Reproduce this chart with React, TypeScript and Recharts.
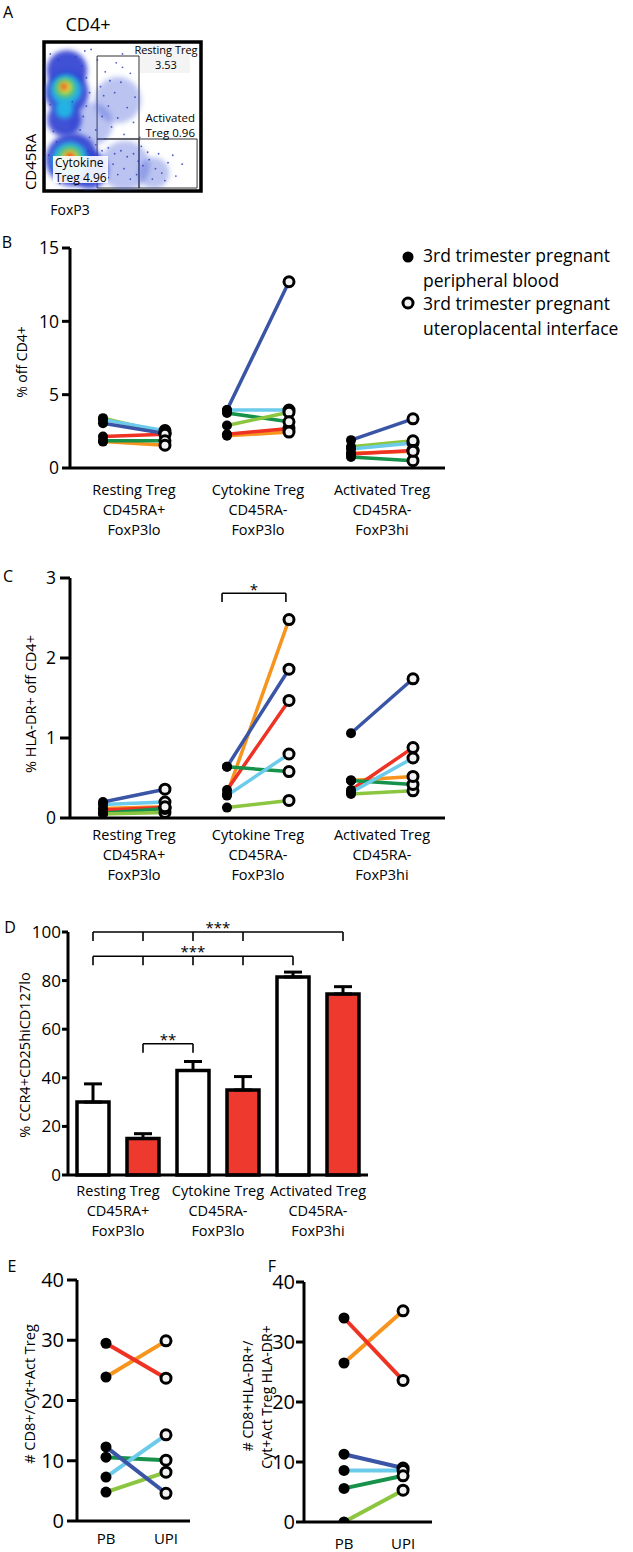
import React from "react";
import {
  ComposedChart,
  ScatterChart,
  BarChart,
  Line,
  Scatter,
  Bar,
  ErrorBar,
  XAxis,
  YAxis,
  ZAxis,
  ReferenceArea,
  ReferenceLine,
} from "recharts";

const FONT = "'Open Sans', sans-serif";

// same six donors in every panel
const donorColors = ["#3a55a5", "#6ccbea", "#8cc640", "#ee3224", "#16924a", "#f7941e"];
const drawOrder = [5, 3, 4, 2, 1, 0];

const tregCats = [
  ["Resting Treg", "CD45RA+", "FoxP3lo"],
  ["Cytokine Treg", "CD45RA-", "FoxP3lo"],
  ["Activated Treg", "CD45RA-", "FoxP3hi"],
];

// B: % off CD4+ (rows = donors, cols = resting, cytokine, activated)
const offCd4Blood = [
  [3.05, 3.95, 1.9],
  [3.3, 3.95, 1.3],
  [3.4, 2.9, 1.45],
  [2.15, 2.3, 0.95],
  [1.85, 3.75, 0.75],
  [1.8, 2.2, 1.0],
];
const offCd4Upi = [
  [2.35, 12.7, 3.35],
  [2.55, 3.95, 1.7],
  [2.4, 3.8, 1.85],
  [2.3, 2.7, 1.2],
  [1.85, 3.15, 0.5],
  [1.55, 2.45, 1.15],
];

// C: % HLA-DR+ off CD4+
const hlaBlood = [
  [0.2, 0.64, 1.06],
  [0.17, 0.28, 0.32],
  [0.05, 0.13, 0.3],
  [0.1, 0.35, 0.35],
  [0.06, 0.64, 0.47],
  [0.12, 0.3, 0.47],
];
const hlaUpi = [
  [0.36, 1.86, 1.74],
  [0.2, 0.8, 0.75],
  [0.07, 0.22, 0.34],
  [0.13, 1.47, 0.88],
  [0.12, 0.58, 0.42],
  [0.14, 2.48, 0.52],
];

// D: % CCR4+CD25hiCD127lo, mean and SEM
const ccr4Blood = [30, 43, 81.5];
const ccr4BloodSem = [7.5, 3.7, 2];
const ccr4Upi = [15, 35, 74.5];
const ccr4UpiSem = [2, 5.5, 3];

// E, F: ratios per donor
const cd8RatioBlood = [12.3, 7.3, 4.8, 29.5, 10.6, 23.9];
const cd8RatioUpi = [4.6, 14.3, 8.1, 23.7, 10.1, 29.9];
const hlaRatioBlood = [11.3, 8.6, 0, 34, 5.6, 26.5];
const hlaRatioUpi = [9.0, 8.6, 5.3, 23.6, 7.7, 35.2];

// A: flow plot, FoxP3 (x) vs CD45RA (y), 0-100 arbitrary units
// [foxp3, cd45ra, spread, density level]
const flowClouds = [
  [51.6, 17, 16, 0],
  [70, 12, 10, 0],
  [47, 61, 15, 0],
  [30, 45, 14, 0],
  [14.6, 81, 13, 1],
  [14.6, 66, 14, 1],
  [13, 48, 11, 1],
  [14, 68, 10, 2],
  [13, 55, 6, 2],
  [13.5, 69, 6.5, 3],
  [13.5, 69.5, 4, 4],
  [12.7, 70, 2, 5],
  [18, 21, 17, 1],
  [29, 14, 12, 1],
  [16.5, 21, 11.5, 2],
  [16.5, 22, 7.7, 3],
  [16.5, 22, 5, 4],
  [16.5, 23, 2.5, 5],
];
const flowEvents = [
  [4, 92], [9, 88], [20, 90], [24, 84], [27, 76], [29, 66], [27, 57], [25, 50],
  [23, 41], [29, 36], [33, 31], [37, 27], [41, 29], [45, 25], [49, 27], [53, 23],
  [57, 25], [51, 15], [47, 11], [41, 9], [35, 13], [59, 11], [63, 17], [67, 21],
  [71, 15], [69, 8], [75, 12], [79, 19], [84, 10], [37, 50], [41, 57], [45, 66],
  [49, 73], [53, 56], [57, 46], [39, 80], [46, 86], [55, 79], [33, 41], [43, 43],
  [51, 38], [28, 27], [31, 18], [6, 40], [4, 58], [3, 24], [28, 6], [20, 4],
  [10, 5], [36, 70], [58, 63], [47, 49], [62, 30], [66, 26], [73, 25], [88, 18],
  [30, 95], [50, 92], [18, 60], [8, 33], [39, 35], [44, 18], [55, 8], [60, 20],
  [38, 64], [50, 83], [42, 74], [34, 88], [26, 94], [61, 36], [77, 7], [82, 24],
];
const flowGates = [
  { foxp3: [33.8, 60.5], cd45ra: [34.9, 90.6] },
  { foxp3: [33.8, 60.5], cd45ra: [2, 34.9] },
  { foxp3: [60.5, 97.5], cd45ra: [2, 34.9] },
];

const levelFill = ["#3d52d4", "#2b3fd0", "#22b7e6", "#62c46a", "#f4e33a", "#e8361c"];
const levelOpacity = [0.35, 0.9, 0.95, 0.95, 0.95, 1];

// D significance brackets, bar index 0..5 (white/red alternating)
const ccrBrackets = [
  { from: 0, to: 5, drops: [0, 1, 2, 3, 5], level: 100, mark: "***" },
  { from: 0, to: 4, drops: [0, 1, 2, 3, 4], level: 90, mark: "***" },
  { from: 1, to: 2, drops: [1, 2], level: 54, mark: "**" },
];

function groupedLines(blood: number[][], upi: number[][]) {
  return blood.map((row, d) =>
    row.flatMap((v, c) => [
      { x: 2 * c + 1, y: v },
      { x: 2 * c + 2, y: upi[d][c] },
      { x: 2 * c + 2.5, y: null },
    ])
  );
}

function groupedDots(vals: number[][], shift: number) {
  return vals.flatMap((row) => row.map((v, c) => ({ x: 2 * c + 1 + shift, y: v })));
}

function Txt({ x, y, size, align = "left", rotate = false, children, style }: any) {
  const tx = align === "center" ? "-50%" : align === "right" ? "-100%" : "0";
  return (
    <div
      style={{
        position: "absolute",
        left: x,
        top: y,
        fontSize: size,
        lineHeight: 1.2,
        whiteSpace: "nowrap",
        transform: `translate(${tx}, -50%)${rotate ? " rotate(-90deg)" : ""}`,
        ...style,
      }}
    >
      {children}
    </div>
  );
}

const catTick = (firstDy: number) => (p: any) => {
  const idx = p.payload && typeof p.payload.value === "number" && p.payload.value > 1
    ? Math.round((p.payload.value - 1.5) / 2)
    : p.index;
  const lines = tregCats[idx] || [];
  return (
    <text x={p.x} y={p.y} textAnchor="middle" fontSize={14.5} fontFamily={FONT} fill="#000">
      {lines.map((l, i) => (
        <tspan key={i} x={p.x} dy={i === 0 ? firstDy : 20}>
          {l}
        </tspan>
      ))}
    </text>
  );
};

function PairedChart(props: any) {
  const {
    left, top, width, height, margin, xDomain, xTicks, xHeight, xTick, xTickMargin,
    yDomain, yTicks, yWidth, yFont, yTickSize, yTickMargin,
    blood, upi, dotR, ringR, lineW, children,
  } = props;
  const lines = groupedLines(blood, upi);
  return (
    <div style={{ position: "absolute", left, top }}>
      <ComposedChart width={width} height={height} margin={margin}>
        <XAxis
          type="number"
          dataKey="x"
          domain={xDomain}
          ticks={xTicks}
          interval={0}
          allowDataOverflow
          height={xHeight}
          axisLine={{ stroke: "#000", strokeWidth: 3 }}
          tickLine={false}
          tickSize={0}
          tickMargin={xTickMargin || 0}
          tick={xTick}
          tickFormatter={(v: number) => (v === 1 ? "PB" : "UPI")}
        />
        <YAxis
          type="number"
          dataKey="y"
          domain={yDomain}
          ticks={yTicks}
          interval={0}
          allowDataOverflow
          width={yWidth}
          axisLine={{ stroke: "#000", strokeWidth: 3 }}
          tickLine={{ stroke: "#000", strokeWidth: 3 }}
          tickSize={yTickSize}
          tickMargin={yTickMargin}
          tick={{ fontSize: yFont, fill: "#000", fontFamily: FONT }}
        />
        {drawOrder.map((d) => (
          <Line
            key={d}
            data={lines[d]}
            dataKey="y"
            type="linear"
            stroke={donorColors[d]}
            strokeWidth={lineW}
            dot={false}
            activeDot={false}
            connectNulls={false}
            isAnimationActive={false}
          />
        ))}
        <Scatter
          data={groupedDots(blood, 0)}
          dataKey="y"
          isAnimationActive={false}
          shape={(p: any) => <circle cx={p.cx} cy={p.cy} r={dotR} fill="#000" />}
        />
        <Scatter
          data={groupedDots(upi, 1)}
          dataKey="y"
          isAnimationActive={false}
          shape={(p: any) => (
            <circle cx={p.cx} cy={p.cy} r={ringR} fill="#f2f2f2" stroke="#000" strokeWidth={3} />
          )}
        />
        {children}
      </ComposedChart>
    </div>
  );
}

function FlowPanel() {
  const clouds = flowClouds.map(([foxp3, cd45ra, spread, level]) => ({
    foxp3,
    cd45ra,
    area: spread * spread,
    level,
  }));
  const events = flowEvents.map(([foxp3, cd45ra]) => ({ foxp3, cd45ra }));
  return (
    <div style={{ position: "absolute", left: 0, top: 0 }}>
      <ScatterChart width={215} height={200} margin={{ top: 42, left: 44, right: 14, bottom: 9 }}>
        <XAxis type="number" dataKey="foxp3" domain={[0, 100]} hide allowDataOverflow />
        <YAxis type="number" dataKey="cd45ra" domain={[0, 100]} hide allowDataOverflow />
        <ZAxis type="number" dataKey="area" domain={[0, 400]} range={[0, 3019]} />
        <Scatter
          data={clouds}
          isAnimationActive={false}
          shape={(p: any) => (
            <circle
              cx={p.cx}
              cy={p.cy}
              r={Math.max((p.width || 1) / 2, 0.5)}
              fill={levelFill[p.payload.level]}
              fillOpacity={levelOpacity[p.payload.level]}
              filter="url(#flowBlur)"
            />
          )}
        />
        <Scatter
          data={events}
          isAnimationActive={false}
          shape={(p: any) => <circle cx={p.cx} cy={p.cy} r={0.9} fill="#2f3fc0" fillOpacity={0.85} />}
        />
        {flowGates.map((g, i) => (
          <ReferenceArea
            key={i}
            x1={g.foxp3[0]}
            x2={g.foxp3[1]}
            y1={g.cd45ra[0]}
            y2={g.cd45ra[1]}
            fill="none"
            fillOpacity={0}
            stroke="#333"
            strokeWidth={1}
          />
        ))}
        <ReferenceArea x1={0} x2={100} y1={0} y2={100} fill="none" fillOpacity={0} stroke="#000" strokeWidth={3.5} />
      </ScatterChart>
    </div>
  );
}

function CcrPanel() {
  const rows = tregCats.map((lines, i) => ({
    name: lines[0],
    blood: ccr4Blood[i],
    bloodErr: [0, ccr4BloodSem[i]],
    upi: ccr4Upi[i],
    upiErr: [0, ccr4UpiSem[i]],
  }));
  const margin = { top: 14, right: 32, left: 8, bottom: 0 };
  return (
    <>
      <div style={{ position: "absolute", left: 0, top: 918 }}>
        <BarChart width={400} height={330} data={rows} margin={margin} barSize={32} barGap={18}>
          <XAxis
            dataKey="name"
            height={73}
            axisLine={{ stroke: "#000", strokeWidth: 3 }}
            tickLine={false}
            tickSize={0}
            tickMargin={0}
            interval={0}
            tick={catTick(21)}
          />
          <YAxis
            type="number"
            domain={[0, 100]}
            ticks={[0, 20, 40, 60, 80, 100]}
            interval={0}
            width={60}
            axisLine={{ stroke: "#000", strokeWidth: 3 }}
            tickLine={{ stroke: "#000", strokeWidth: 3 }}
            tickSize={6}
            tickMargin={1}
            tick={{ fontSize: 17, fill: "#000", fontFamily: FONT }}
          />
          <Bar dataKey="blood" fill="#fff" stroke="#000" strokeWidth={3.5} isAnimationActive={false}>
            <ErrorBar dataKey="bloodErr" direction="y" width={9} stroke="#000" strokeWidth={3} />
          </Bar>
          <Bar dataKey="upi" fill="#ee3a2e" stroke="#000" strokeWidth={3.5} isAnimationActive={false}>
            <ErrorBar dataKey="upiErr" direction="y" width={9} stroke="#000" strokeWidth={3} />
          </Bar>
        </BarChart>
      </div>
      {/* brackets: same plot box, numeric bar-position axis */}
      <div style={{ position: "absolute", left: 0, top: 918 }}>
        <ComposedChart width={400} height={330} margin={{ top: 14, right: 32, left: 68, bottom: 73 }}>
          <XAxis type="number" dataKey="x" domain={[0, 6]} allowDataOverflow hide />
          <YAxis type="number" dataKey="y" domain={[0, 100]} allowDataOverflow hide />
          {ccrBrackets.map((b, k) => (
            <ReferenceLine
              key={`h${k}`}
              segment={[
                { x: b.from + 0.5, y: b.level },
                { x: b.to + 0.5, y: b.level },
              ]}
              stroke="#000"
              strokeWidth={1.6}
              ifOverflow="visible"
              label={{ value: b.mark, position: "top", fontSize: 15, fill: "#000", offset: -1 }}
            />
          ))}
          {ccrBrackets.flatMap((b, k) =>
            b.drops.map((i) => (
              <ReferenceLine
                key={`v${k}-${i}`}
                segment={[
                  { x: i + 0.5, y: b.level },
                  { x: i + 0.5, y: b.level - 3.7 },
                ]}
                stroke="#000"
                strokeWidth={1.6}
                ifOverflow="visible"
              />
            ))
          )}
        </ComposedChart>
      </div>
    </>
  );
}

export default function App() {
  const pairDomain = [0.468, 6.516];
  return (
    <div
      style={{
        position: "absolute",
        left: 0,
        top: 0,
        width: 633,
        height: 1552,
        background: "#fff",
        fontFamily: FONT,
        color: "#000",
        overflow: "hidden",
      }}
    >
      <svg width={0} height={0} style={{ position: "absolute" }}>
        <defs>
          <filter id="flowBlur" x="-50%" y="-50%" width="200%" height="200%">
            <feGaussianBlur stdDeviation={2.5} />
          </filter>
        </defs>
      </svg>

      {/* A */}
      <FlowPanel />
      <div style={{ position: "absolute", left: 140, top: 44, width: 50, height: 29, background: "#f4f4f4" }} />
      <div style={{ position: "absolute", left: 53, top: 156, width: 55, height: 27, background: "#fff", opacity: 0.9 }} />
      <Txt x={8} y={13} size={16} align="center">A</Txt>
      <Txt x={88} y={25} size={18} align="center">CD4+</Txt>
      <Txt x={30} y={162} size={15} align="center" rotate>CD45RA</Txt>
      <Txt x={70} y={210} size={14} align="center">FoxP3</Txt>
      <Txt x={166} y={50} size={11} align="center">Resting Treg</Txt>
      <Txt x={166} y={65} size={11} align="center">3.53</Txt>
      <Txt x={195} y={118} size={11.5} align="right">Activated</Txt>
      <Txt x={195} y={133} size={11.5} align="right">Treg 0.96</Txt>
      <Txt x={55} y={163} size={12}>Cytokine</Txt>
      <Txt x={55} y={178} size={12}>Treg 4.96</Txt>

      {/* B */}
      <PairedChart
        left={0}
        top={230}
        width={460}
        height={320}
        margin={{ top: 18, right: 15, left: 20, bottom: 7 }}
        xDomain={pairDomain}
        xTicks={[1.5, 3.5, 5.5]}
        xHeight={75}
        xTick={catTick(27)}
        yDomain={[0, 15]}
        yTicks={[0, 5, 10, 15]}
        yWidth={50}
        yFont={17.5}
        yTickSize={8}
        yTickMargin={3}
        blood={offCd4Blood}
        upi={offCd4Upi}
        dotR={5}
        ringR={5}
        lineW={3.5}
      />
      <Txt x={7} y={243} size={16} align="center">B</Txt>
      <Txt x={22} y={362} size={14} align="center" rotate>% off CD4+</Txt>
      <svg width={20} height={70} style={{ position: "absolute", left: 398, top: 245 }}>
        <circle cx={10} cy={12} r={5.5} fill="#000" />
        <circle cx={10} cy={58} r={5} fill="#f2f2f2" stroke="#000" strokeWidth={3} />
      </svg>
      <Txt x={423} y={255} size={17.5}>3rd trimester pregnant</Txt>
      <Txt x={423} y={280} size={17.5}>peripheral blood</Txt>
      <Txt x={423} y={303} size={17.5}>3rd trimester pregnant</Txt>
      <Txt x={423} y={328} size={17.5}>uteroplacental interface</Txt>

      {/* C */}
      <PairedChart
        left={0}
        top={565}
        width={460}
        height={320}
        margin={{ top: 13, right: 15, left: 20, bottom: 0 }}
        xDomain={pairDomain}
        xTicks={[1.5, 3.5, 5.5]}
        xHeight={67}
        xTick={catTick(22)}
        yDomain={[0, 3]}
        yTicks={[0, 1, 2, 3]}
        yWidth={50}
        yFont={17.5}
        yTickSize={10}
        yTickMargin={4}
        blood={hlaBlood}
        upi={hlaUpi}
        dotR={5}
        ringR={5}
        lineW={3.5}
      >
        <ReferenceLine
          segment={[
            { x: 2.92, y: 2.81 },
            { x: 3.95, y: 2.81 },
          ]}
          stroke="#000"
          strokeWidth={1.6}
          ifOverflow="visible"
          label={{ value: "*", position: "top", fontSize: 15, fill: "#000", offset: -2 }}
        />
        <ReferenceLine
          segment={[
            { x: 2.92, y: 2.81 },
            { x: 2.92, y: 2.7 },
          ]}
          stroke="#000"
          strokeWidth={1.6}
          ifOverflow="visible"
        />
        <ReferenceLine
          segment={[
            { x: 3.95, y: 2.81 },
            { x: 3.95, y: 2.7 },
          ]}
          stroke="#000"
          strokeWidth={1.6}
          ifOverflow="visible"
        />
      </PairedChart>
      <Txt x={8} y={577} size={16} align="center">C</Txt>
      <Txt x={31} y={704} size={14.5} align="center" rotate>% HLA-DR+ off CD4+</Txt>

      {/* D */}
      <CcrPanel />
      <Txt x={10} y={928} size={16} align="center">D</Txt>
      <Txt x={25} y={1055} size={14.5} align="center" rotate>% CCR4+CD25hiCD127lo</Txt>

      {/* E */}
      <PairedChart
        left={0}
        top={1255}
        width={210}
        height={297}
        margin={{ top: 25, right: 20, left: 17, bottom: 0 }}
        xDomain={[0.517, 2.4]}
        xTicks={[1, 2]}
        xHeight={31}
        xTickMargin={12}
        xTick={{ fontSize: 15, fill: "#000", fontFamily: FONT }}
        yDomain={[0, 40]}
        yTicks={[0, 10, 20, 30, 40]}
        yWidth={60}
        yFont={20}
        yTickSize={10}
        yTickMargin={3}
        blood={cd8RatioBlood.map((v) => [v])}
        upi={cd8RatioUpi.map((v) => [v])}
        dotR={5.5}
        ringR={5}
        lineW={4}
      />
      <Txt x={12} y={1267} size={16} align="center">E</Txt>
      <Txt x={30} y={1394} size={14.5} align="center" rotate># CD8+/Cyt+Act Treg</Txt>

      {/* F */}
      <PairedChart
        left={240}
        top={1255}
        width={200}
        height={297}
        margin={{ top: 27, right: 8, left: 14, bottom: 0 }}
        xDomain={[0.322, 2.49]}
        xTicks={[1, 2]}
        xHeight={30}
        xTickMargin={16}
        xTick={{ fontSize: 15, fill: "#000", fontFamily: FONT }}
        yDomain={[0, 40]}
        yTicks={[0, 10, 20, 30, 40]}
        yWidth={50}
        yFont={20}
        yTickSize={8}
        yTickMargin={1}
        blood={hlaRatioBlood.map((v) => [v])}
        upi={hlaRatioUpi.map((v) => [v])}
        dotR={5.5}
        ringR={5}
        lineW={4}
      />
      <Txt x={272} y={1267} size={16} align="center">F</Txt>
      <Txt x={248} y={1396} size={14} align="center" rotate># CD8+HLA-DR+/</Txt>
      <Txt x={267} y={1397} size={14} align="center" rotate>Cyt+Act Treg HLA-DR+</Txt>
    </div>
  );
}
